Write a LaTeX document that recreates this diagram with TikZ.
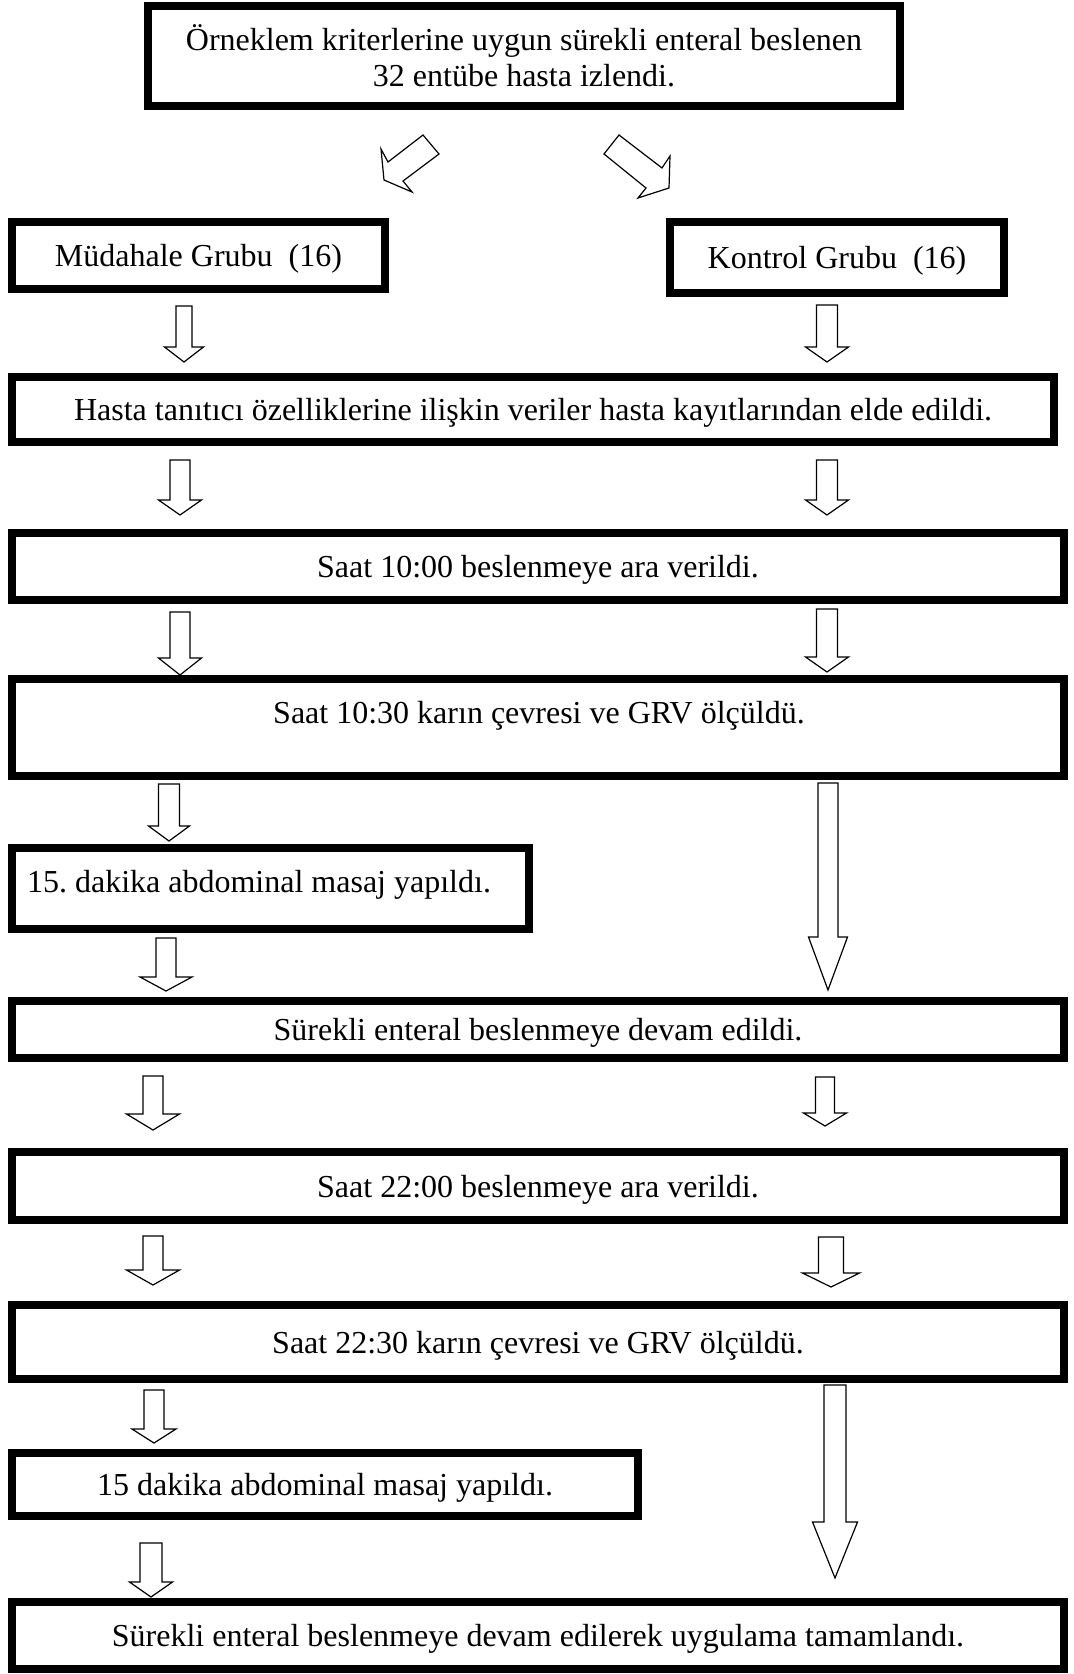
\documentclass[tikz,border=0pt]{standalone}
\usepackage{fontspec}
\setmainfont{Liberation Serif}
\frenchspacing
\tikzset{
  flowbox/.style={draw=black, line width=4pt, fill=white, inner sep=0pt, align=center, font=\fontsize{16}{17.8}\selectfont},
  lowtext/.style={text height=11.5pt, text depth=0.2pt},
  lbl/.style={inner sep=0pt, align=center, font=\fontsize{16}{17.8}\selectfont},
  blockarr/.style={draw=black, line width=0.6pt, fill=white, line join=miter}
}
% name, x1, y1, x2, y2, text
\newcommand\mkbox[6]{%
  \node[flowbox, minimum width={(#4-#2-8)*0.5pt}, minimum height={(#5-#3-8)*0.5pt}] (#1) at ({(#2+#4)/2},{(#3+#5)/2}) {#6};}
% same, text lowered slightly
\newcommand\mkboxs[6]{%
  \node[flowbox, lowtext, minimum width={(#4-#2-8)*0.5pt}, minimum height={(#5-#3-8)*0.5pt}] (#1) at ({(#2+#4)/2},{(#3+#5)/2}) {#6};}
% cx, ytop, ybarb, ytip, shaft width, head width
\newcommand\darrow[6]{%
  \draw[blockarr] ({#1-#5/2},#2) -- ({#1+#5/2},#2) -- ({#1+#5/2},#3) -- ({#1+#6/2},#3) -- (#1,#4) -- ({#1-#6/2},#3) -- ({#1-#5/2},#3) -- cycle;}
\begin{document}
\begin{tikzpicture}[x=0.5pt,y=-0.5pt]
\useasboundingbox (0,0) rectangle (1073,1674);

\mkbox{b1}{144}{2}{904}{110}{Örneklem kriterlerine uygun sürekli enteral beslenen\\32 entübe hasta izlendi.}
\mkboxs{b2}{8}{218}{389}{293}{Müdahale Grubu\ \ (16)}
\mkboxs{b3}{666}{218}{1008}{297}{Kontrol Grubu\ \ (16)}
\mkboxs{b4}{8}{373}{1058}{446}{Hasta tanıtıcı özelliklerine ilişkin veriler hasta kayıtlarından elde edildi.}
\mkboxs{b5}{8}{529}{1068}{604}{Saat 10:00 beslenmeye ara verildi.}
\mkbox{b6}{8}{675}{1068}{780}{}
\node[lbl] (t6) at (539,716) {Saat 10:30 karın çevresi ve GRV ölçüldü.};
\mkbox{b7}{8}{844}{533}{933}{}
\node[lbl] (t7) at (259,885) {15. dakika abdominal masaj yapıldı.};
\mkboxs{b8}{8}{997}{1068}{1062}{Sürekli enteral beslenmeye devam edildi.}
\mkboxs{b9}{8}{1148}{1068}{1224}{Saat 22:00 beslenmeye ara verildi.}
\mkboxs{b10}{8}{1301}{1068}{1383}{Saat 22:30 karın çevresi ve GRV ölçüldü.}
\mkboxs{b11}{8}{1449}{642}{1520}{15 dakika abdominal masaj yapıldı.}
\mkboxs{b12}{8}{1598}{1068}{1673}{Sürekli enteral beslenmeye devam edilerek uygulama tamamlandı.}

% diagonal arrows
\draw[blockarr] (423,135) -- (439,154) -- (403,181) -- (412,192) -- (384,180) -- (381,149) -- (388,162) -- cycle;
\draw[blockarr] (619,135) -- (604,154) -- (646,188) -- (638,198) -- (669,188) -- (670,156) -- (662,168) -- cycle;

% vertical block arrows
\darrow{184}{306}{347}{362}{16}{39}
\darrow{827}{305}{347}{362}{21}{43}
\darrow{180}{460}{500}{515}{20}{43}
\darrow{827}{460}{500}{515}{21}{43}
\darrow{180}{612}{658}{675}{20}{43}
\darrow{827}{609}{657}{672}{21}{43}
\darrow{169}{784}{826}{841}{21}{41}
\darrow{828}{783}{937}{990}{20}{39}
\darrow{166}{938}{977}{991}{20}{52}
\darrow{153}{1076}{1114}{1130}{20}{53}
\darrow{825}{1077}{1113}{1126}{19}{43}
\darrow{153}{1236}{1270}{1285}{20}{53}
\darrow{831}{1237}{1273}{1287}{25}{57}
\darrow{154}{1390}{1429}{1443}{20}{44}
\darrow{835}{1385}{1522}{1578}{22}{45}
\darrow{151}{1543}{1582}{1597}{22}{43}
\end{tikzpicture}
\end{document}
